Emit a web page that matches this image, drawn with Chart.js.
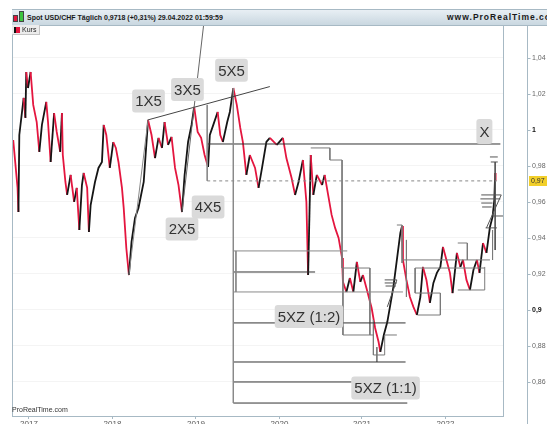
<!DOCTYPE html>
<html><head><meta charset="utf-8">
<script src="https://cdn.jsdelivr.net/npm/chart.js@4.4.1/dist/chart.umd.min.js"></script>
<style>
html,body{margin:0;padding:0;background:#fff;}
#wrap{position:relative;width:547px;height:424px;overflow:hidden;font-family:"Liberation Sans",Arial,sans-serif;}
#c{position:absolute;left:0;top:0;}
#hdr{position:absolute;left:12px;top:9px;width:535px;height:15px;background:linear-gradient(#e8eff4,#c9d7e0);border-top:1px solid #a7b9c4;border-bottom:1px solid #a7b9c4;overflow:hidden;}
#hdr .t{position:absolute;left:15px;top:3px;font-size:7px;line-height:9px;color:#1a1a1a;white-space:nowrap;font-weight:bold;}
#hdr .r{position:absolute;left:435px;top:3px;font-size:8.5px;letter-spacing:1px;line-height:9px;color:#1a1a1a;white-space:nowrap;font-weight:bold;}
.cd{position:absolute;width:3px;border:1px solid #444;}
#kurs{position:absolute;left:12px;top:25px;width:27px;height:9px;background:#ececec;border-right:1px solid #c4c4c4;border-bottom:1px solid #c4c4c4;}
#kurs .ic{position:absolute;left:2px;top:2px;width:6px;height:6px;background:linear-gradient(90deg,#111 0 40%,#e4163f 40% 100%);}
#kurs .tx{position:absolute;left:10px;top:1px;font-size:7px;line-height:8px;color:#222;}
#prt{position:absolute;left:12px;top:406px;font-size:7px;color:#333;}
</style></head>
<body><div id="wrap">
<canvas id="c" width="547" height="424"></canvas>
<div id="hdr">
  <div class="cd" style="left:1px;top:5px;height:5px;background:#e4163f;"></div>
  <div class="cd" style="left:7px;top:1px;height:9px;background:#3ec43e;"></div>
  <div class="t">Spot USD/CHF Täglich 0,9718 (+0,31%) 29.04.2022 01:59:59</div>
  <div class="r">www.ProRealTime.com</div>
</div>
<div id="kurs"><div class="ic"></div><div class="tx">Kurs</div></div>
<div id="prt">ProRealTime.com</div>
</div>
<script>
// ---- price series (decimal year, price) ----
const PRICE_T = [2016.79,2016.84,2016.85,2016.86,2016.91,2016.93,2016.94,2016.96,2016.99,2017.02,2017.06,2017.09,2017.12,2017.17,2017.19,2017.22,2017.26,2017.29,2017.33,2017.35,2017.36,2017.39,2017.41,2017.45,2017.49,2017.52,2017.55,2017.58,2017.60,2017.64,2017.66,2017.68,2017.73,2017.77,2017.81,2017.83,2017.86,2017.90,2017.94,2017.97,2018.00,2018.04,2018.06,2018.09,2018.12,2018.15,2018.19,2018.23,2018.29,2018.34,2018.38,2018.42,2018.46,2018.50,2018.53,2018.57,2018.61,2018.65,2018.69,2018.73,2018.76,2018.80,2018.84,2018.87,2018.91,2018.95,2018.99,2019.03,2019.05,2019.09,2019.14,2019.17,2019.20,2019.25,2019.28,2019.32,2019.36,2019.40,2019.43,2019.47,2019.51,2019.57,2019.61,2019.65,2019.70,2019.74,2019.82,2019.89,2019.93,2019.99,2020.03,2020.07,2020.12,2020.16,2020.18,2020.21,2020.24,2020.28,2020.34,2020.37,2020.41,2020.45,2020.49,2020.53,2020.57,2020.58,2020.62,2020.66,2020.70,2020.74,2020.78,2020.81,2020.85,2020.91,2020.95,2020.99,2021.01,2021.05,2021.09,2021.13,2021.16,2021.20,2021.24,2021.26,2021.27,2021.31,2021.35,2021.39,2021.43,2021.47,2021.50,2021.54,2021.58,2021.62,2021.66,2021.70,2021.73,2021.77,2021.81,2021.84,2021.89,2021.93,2021.96,2022.00,2022.04,2022.08,2022.12,2022.15,2022.19,2022.23,2022.27,2022.30,2022.32,2022.33,2022.335];
const PRICE_V = [0.9944,0.9678,0.9544,0.9972,1.0178,1.0067,1.0322,1.0233,1.0322,1.0139,1.0044,0.9878,1.0028,1.0156,1.0044,0.9822,1.0094,0.9989,0.9878,1.0094,0.9861,0.9711,0.9639,0.975,0.96,0.9678,0.9444,0.9694,0.9761,0.9678,0.9433,0.9583,0.9711,0.9789,0.9822,1.0028,0.9972,0.9789,0.9933,0.99,0.9822,0.9678,0.9567,0.9344,0.9194,0.9378,0.9511,0.9567,0.9711,1.0056,0.9972,0.9844,0.9956,0.99,1.0044,0.9917,0.9961,0.9789,0.9694,0.9544,0.975,0.9933,1.0028,1.0128,0.9989,0.9956,0.9861,0.9794,0.9972,1.0028,1.01,0.9972,0.9933,1.0044,1.01,1.0233,1.0139,1.0011,0.9933,0.975,0.9861,0.9789,0.9678,0.9789,0.9933,0.9956,0.9917,0.9956,0.9844,0.9733,0.9639,0.9711,0.9833,0.96,0.9194,0.9861,0.9639,0.975,0.9694,0.975,0.9639,0.9528,0.9456,0.94,0.9289,0.9156,0.91,0.9178,0.91,0.9267,0.9156,0.9194,0.9122,0.9011,0.89,0.8822,0.8767,0.8861,0.8933,0.9044,0.9128,0.9278,0.9428,0.9467,0.9278,0.9167,0.9072,0.9017,0.8972,0.9072,0.9239,0.9167,0.9039,0.915,0.9206,0.9239,0.935,0.9278,0.9206,0.9094,0.9317,0.9239,0.9278,0.9167,0.9111,0.9222,0.9278,0.9206,0.9372,0.9317,0.9461,0.9517,0.9611,0.9761,0.9718];
const LAST_PRICE = 0.9718;

// ---- axes ----
const YEAR_LABELS = ['2017','2018','2019','2020','2021','2022'];
const YEAR_TICK_POS = [2016.971,2017.931,2018.891,2019.851,2020.799,2021.759];
const Y_TICKS = [0.86,0.88,0.9,0.92,0.94,0.96,0.98,1,1.02,1.04];
const Y_LABELS = ['0,86','0,88','0,9','0,92','0,94','0,96','0,98','1','1,02','1,04'];
const XMIN = 2016.776, XMAX = 2022.42, YMIN = 0.8411, YMAX = 1.0583;

// ---- drawn wave / trend lines (year, price) ----
const TREND_TOP = [[2018.34,1.0056],[2019.74,1.0241]];
const WAVE_1 = [[2018.12,0.9194],[2018.34,1.0056]];
const WAVE_2X3 = [[2018.73,0.9544],[2019.012,1.0722]];
const VERT_5X5 = [[2019.32,1.0233],[2019.32,0.8483]];
const VERT_4X5 = [[2019.02,1.0139],[2019.02,0.9717]];
const X_LEVEL = [[2019.02,0.9922],[2022.39,0.9922]];
const PRICE_LEVEL = [[2019.02,0.9717],[2022.35,0.9717]];
// horizontal projection levels
const LEVELS_GRAY = [[[2019.32,0.9328],[2020.63,0.9328]],[[2019.32,0.91],[2021.27,0.91]],[[2019.35,0.9328],[2019.35,0.91]]];
const LEVELS_DARK = [[[2019.32,0.9211],[2020.26,0.9211]],[[2019.32,0.8928],[2021.30,0.8928]],[[2019.32,0.8711],[2021.30,0.8711]],[[2019.32,0.86],[2020.68,0.86]],[[2019.32,0.8483],[2021.32,0.8483]]];
// step boxes
const STEPS = [
  [[2020.21,0.99],[2020.43,0.99],[2020.43,0.9833],[2020.57,0.9833],[2020.57,0.9233],[2020.89,0.9233],[2020.89,0.8861]],
  [[2020.58,0.9233],[2020.58,0.8861],[2020.93,0.8861]],
  [[2020.93,0.8944],[2020.93,0.875],[2021.06,0.875],[2021.06,0.8861],[2021.20,0.8861]],
  [[2020.97,0.8794],[2020.97,0.8711]],
  [[2021.20,0.9472],[2021.26,0.9472],[2021.26,0.9261]],
  [[2021.31,0.9389],[2021.31,0.9072]],
  [[2021.26,0.9278],[2022.27,0.9278]],
  [[2021.41,0.9233],[2022.21,0.9233]],
  [[2021.41,0.9233],[2021.41,0.9094],[2021.70,0.9094],[2021.70,0.8972],[2021.44,0.8972]],
  [[2021.90,0.9372],[2022.01,0.9372],[2022.01,0.9278]],
  [[2021.90,0.9111],[2022.21,0.9111],[2022.21,0.9239]],
  [[2022.30,0.9444],[2022.30,0.9278]]
];
const MARKS = [
  [[2021.06,0.9167],[2021.20,0.9167]],[[2021.06,0.915],[2021.20,0.915]],[[2021.07,0.9133],[2021.19,0.9133]],
  [[2021.09,0.9017],[2021.20,0.9167]],
  [[2022.17,0.9639],[2022.40,0.9639]],[[2022.16,0.9617],[2022.39,0.9617]],[[2022.17,0.9594],[2022.30,0.9594]],
  [[2022.18,0.9572],[2022.29,0.9572]],[[2022.30,0.9522],[2022.42,0.9522]],[[2022.22,0.9456],[2022.35,0.9456]],
  [[2022.27,0.985],[2022.36,0.985]],[[2022.28,0.9822],[2022.36,0.9822]],[[2022.33,0.9822],[2022.33,0.9333]],
  [[2022.23,0.9456],[2022.40,0.9639]]
];
// ---- text annotations ----
const LABEL_TEXT = ['1X5','3X5','5X5','2X5','4X5','5XZ (1:2)','5XZ (1:1)','X'];
const LABEL_T = [2018.345,2018.793,2019.299,2018.73,2019.03,2020.19,2021.07,2022.206];
const LABEL_V = [1.0161,1.0225,1.0331,0.945,0.9572,0.8964,0.8567,0.9992];

const RED = '#e4163f', BLK = '#151515', FRAME = '#a7b9c4', FONT = '"Liberation Sans", Arial, sans-serif';

function lineDs(pts, color, width, dash, order){
  return {type:'line', data: pts.map(p=>({x:p[0], y:p[1]})), borderColor: color, borderWidth: width,
    borderDash: dash || [], pointRadius: 0, tension: 0, order: order, fill:false};
}
const datasets = [];
datasets.push({type:'line', data: PRICE_T.map((t,i)=>({x:t, y:PRICE_V[i]})), borderWidth:1.8, pointRadius:0, tension:0, order:5,
  borderColor: RED, segment:{ borderColor: c => c.p1.parsed.y < c.p0.parsed.y ? RED : BLK }});
datasets.push(lineDs(WAVE_1,'#888',1,null,1));
datasets.push(lineDs(WAVE_2X3,'#666',1,null,1));
datasets.push(lineDs(TREND_TOP,'#444',1,null,1));
datasets.push(lineDs(VERT_5X5,'#8a8a8a',1,null,1));
datasets.push(lineDs(VERT_4X5,'#8a8a8a',1,null,1));
datasets.push(lineDs(X_LEVEL,'#333',1,null,1));
datasets.push(lineDs(PRICE_LEVEL,'#888',1,[3,3],1));
LEVELS_GRAY.forEach(p=>datasets.push(lineDs(p,'#8a8a8a',1,null,1)));
LEVELS_DARK.forEach(p=>datasets.push(lineDs(p,'#333',1,null,1)));
STEPS.forEach(p=>datasets.push(lineDs(p,'#7a7a7a',1,null,1)));
MARKS.forEach(p=>datasets.push(lineDs(p,'#555',1,null,1)));

const overlay = {
  id:'overlay',
  afterDatasetsDraw(chart){
    const {ctx, scales:{x,y}} = chart;
    ctx.save();
    ctx.font = '15px ' + FONT;
    ctx.textAlign = 'center'; ctx.textBaseline = 'middle';
    LABEL_TEXT.forEach((t,i)=>{
      const px = x.getPixelForValue(LABEL_T[i]), py = y.getPixelForValue(LABEL_V[i]);
      const w = ctx.measureText(t).width + 6, h = t === 'X' ? 25 : 23;
      ctx.fillStyle = '#dadada';
      ctx.beginPath(); ctx.roundRect(px - w/2, py - h/2, w, h, 3); ctx.fill();
      ctx.fillStyle = '#333';
      ctx.fillText(t, px, py + 1);
    });
    ctx.restore();
  },
  afterDraw(chart){
    const {ctx, chartArea:a, scales:{y}} = chart;
    ctx.save();
    ctx.strokeStyle = FRAME; ctx.lineWidth = 1;
    ctx.beginPath();
    ctx.moveTo(a.left + 0.5, a.top); ctx.lineTo(a.left + 0.5, a.bottom);
    const ax = 527.5;
    ctx.moveTo(ax, a.top); ctx.lineTo(ax, 424);
    Y_TICKS.forEach(v=>{ const py = Math.round(y.getPixelForValue(v)) + 0.5; ctx.moveTo(ax, py); ctx.lineTo(ax + 3, py); });
    ctx.stroke();
    // last price tag
    const py = y.getPixelForValue(LAST_PRICE);
    ctx.fillStyle = '#f2cf2a';
    ctx.fillRect(529, Math.round(py) - 5, 18, 10);
    ctx.fillStyle = '#333'; ctx.font = '7px ' + FONT; ctx.textAlign = 'left'; ctx.textBaseline = 'middle';
    ctx.fillText(LAST_PRICE.toFixed(2).replace('.', ','), 531, py);
    ctx.restore();
  }
};

const isBold = v => v != null && (Math.abs(v - 1) < 1e-6 || Math.abs(v - 0.9) < 1e-6);
const tickVal = c => (c && c.tick) ? c.tick.value : null;
new Chart(document.getElementById('c'), {
  type:'line',
  data:{datasets},
  options:{
    responsive:false, animation:false, devicePixelRatio:1,
    layout:{padding:{left:12, top:25, right:0, bottom:0}},
    plugins:{legend:{display:false}, tooltip:{enabled:false}},
    scales:{
      x:{type:'linear', min:XMIN, max:XMAX,
        afterBuildTicks: s => { s.ticks = YEAR_TICK_POS.map(v=>({value:v})); },
        afterFit: s => { s.height = 8; s.paddingLeft = 0; s.paddingRight = 0; },
        ticks:{autoSkip:false, maxRotation:0, padding:0, color:'#555', font:{family:FONT, size:8},
          callback:(v)=>YEAR_LABELS[YEAR_TICK_POS.findIndex(t=>Math.abs(t-v)<1e-6)]},
        grid:{drawOnChartArea:false, tickLength:3, color:FRAME},
        border:{display:true, color:FRAME}},
      y:{type:'linear', position:'right', min:YMIN, max:YMAX,
        afterBuildTicks: s => { s.ticks = Y_TICKS.map(v=>({value:v})); },
        afterFit: s => { s.width = 44; s.paddingTop = 0; s.paddingBottom = 0; },
        ticks:{padding:29, autoSkip:false,
          color: c => isBold(tickVal(c)) ? '#111' : '#666',
          font: c => ({family:FONT, size:7, weight: isBold(tickVal(c)) ? 'bold' : 'normal'}),
          callback:(v)=>Y_LABELS[Y_TICKS.findIndex(t=>Math.abs(t-v)<1e-6)]},
        grid:{drawTicks:false, color:'rgba(0,0,0,0.045)'},
        border:{display:true, color:FRAME}}
    }
  },
  plugins:[overlay]
});
</script>
</body></html>
